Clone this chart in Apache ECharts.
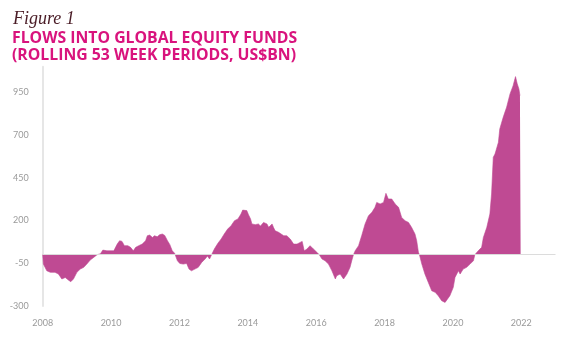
<!DOCTYPE html>
<html>
<head>
<meta charset="utf-8">
<script src="https://cdn.jsdelivr.net/npm/echarts@6/dist/echarts.min.js"></script>
<style>
html,body{margin:0;padding:0;background:#fff;}
#chart{width:567px;height:339px;}
</style>
</head>
<body>
<div id="chart"></div>
<script>
const years = [2008.00,2008.02,2008.12,2008.22,2008.36,2008.46,2008.56,2008.66,2008.75,2008.82,2008.90,2009.00,2009.10,2009.20,2009.29,2009.39,2009.49,2009.59,2009.69,2009.76,2009.88,2010.08,2010.18,2010.25,2010.32,2010.39,2010.49,2010.57,2010.65,2010.72,2010.81,2010.91,2011.01,2011.06,2011.13,2011.21,2011.27,2011.35,2011.42,2011.50,2011.57,2011.65,2011.72,2011.79,2011.86,2011.90,2011.94,2012.01,2012.11,2012.21,2012.28,2012.35,2012.45,2012.55,2012.65,2012.75,2012.82,2012.88,2012.94,2013.02,2013.12,2013.22,2013.31,2013.41,2013.51,2013.61,2013.71,2013.80,2013.85,2013.90,2013.97,2014.02,2014.08,2014.12,2014.22,2014.31,2014.37,2014.46,2014.51,2014.56,2014.61,2014.66,2014.71,2014.75,2014.80,2014.90,2014.95,2015.05,2015.14,2015.24,2015.34,2015.44,2015.53,2015.59,2015.65,2015.73,2015.82,2015.92,2016.02,2016.09,2016.17,2016.26,2016.36,2016.46,2016.56,2016.60,2016.70,2016.80,2016.90,2016.99,2017.04,2017.09,2017.14,2017.24,2017.33,2017.43,2017.53,2017.63,2017.72,2017.77,2017.87,2017.97,2018.04,2018.11,2018.21,2018.31,2018.41,2018.50,2018.60,2018.70,2018.79,2018.89,2018.94,2018.99,2019.02,2019.09,2019.18,2019.28,2019.38,2019.48,2019.57,2019.67,2019.77,2019.82,2019.91,2020.01,2020.06,2020.16,2020.21,2020.30,2020.40,2020.50,2020.60,2020.64,2020.74,2020.84,2020.89,2020.99,2021.08,2021.13,2021.18,2021.23,2021.33,2021.37,2021.47,2021.57,2021.67,2021.76,2021.83,2021.88,2021.93,2021.96,2021.98];
const flows = [0,-55,-94,-103,-103,-113,-142,-133,-148,-158,-142,-103,-84,-74,-55,-31,-16,0,6,27,23,23,62,82,78,53,53,43,23,43,53,62,82,111,115,101,111,105,117,121,113,82,59,23,8,0,-35,-51,-55,-51,-84,-94,-84,-74,-45,-25,-8,-25,0,33,66,92,121,150,170,199,209,238,261,271,258,234,209,180,176,180,168,189,199,180,160,150,180,160,140,131,121,111,111,92,62,62,72,78,23,33,53,33,14,0,-25,-35,-55,-94,-142,-123,-113,-142,-113,-74,-35,0,23,53,111,180,228,248,277,306,297,306,359,326,326,297,277,218,199,189,160,121,82,14,0,-55,-113,-162,-211,-220,-240,-269,-279,-269,-240,-191,-133,-94,-113,-84,-74,-55,-35,0,23,43,101,160,238,355,570,589,658,736,804,863,941,989,1042,1000,970,931,931];
const xTicks = [2008,2010,2012,2014,2016,2018,2020,2022];
const yTicks = [-300,-50,200,450,700,950];

const chart = echarts.init(document.getElementById('chart'), null, {renderer:'canvas'});
const pink = '#BF4A93';
chart.setOption({
  animation:false,
  title:[
    {text:'Figure 1', left:13, top:10, padding:0, textStyle:{fontFamily:'Liberation Serif', fontStyle:'italic', fontWeight:'normal', fontSize:18, color:'#4a1c26'}},
    {text:'FLOWS INTO GLOBAL EQUITY FUNDS', left:12, top:30, padding:0, textStyle:{fontFamily:'Open Sans', fontWeight:'bold', fontSize:15.8, color:'#D9137D'}},
    {text:'(ROLLING 53 WEEK PERIODS, US$BN)', left:12, top:47, padding:0, textStyle:{fontFamily:'Open Sans', fontWeight:'bold', fontSize:15.8, color:'#D9137D'}}
  ],
  grid:{left:42.7, right:11.5, top:66.7, bottom:33, containLabel:false},
  xAxis:{
    type:'value', min:2008, max:2023,
    axisLine:{show:false, onZero:false},
    axisTick:{show:false},
    splitLine:{show:false},
    axisLabel:{customValues:xTicks, formatter:v=>String(v), color:'#9a9a9a', fontSize:9, fontFamily:'Lato', margin:13}
  },
  yAxis:{
    type:'value', min:-300, max:1100,
    axisLine:{show:true, lineStyle:{color:'#e6e6e6', width:2}},
    axisTick:{show:false},
    splitLine:{show:false},
    axisLabel:{customValues:yTicks, color:'#9a9a9a', fontSize:9, fontFamily:'Lato', margin:14}
  },
  series:[{
    type:'line',
    data:years.map((y,i)=>[y, flows[i]]),
    showSymbol:false,
    lineStyle:{width:0.6, color:pink},
    areaStyle:{color:pink, opacity:1},
    markLine:{
      silent:true, symbol:'none', label:{show:false},
      lineStyle:{color:'#dcdcdc', type:'solid', width:1.2},
      data:[{yAxis:0}]
    }
  }]
});
</script>
</body>
</html>
